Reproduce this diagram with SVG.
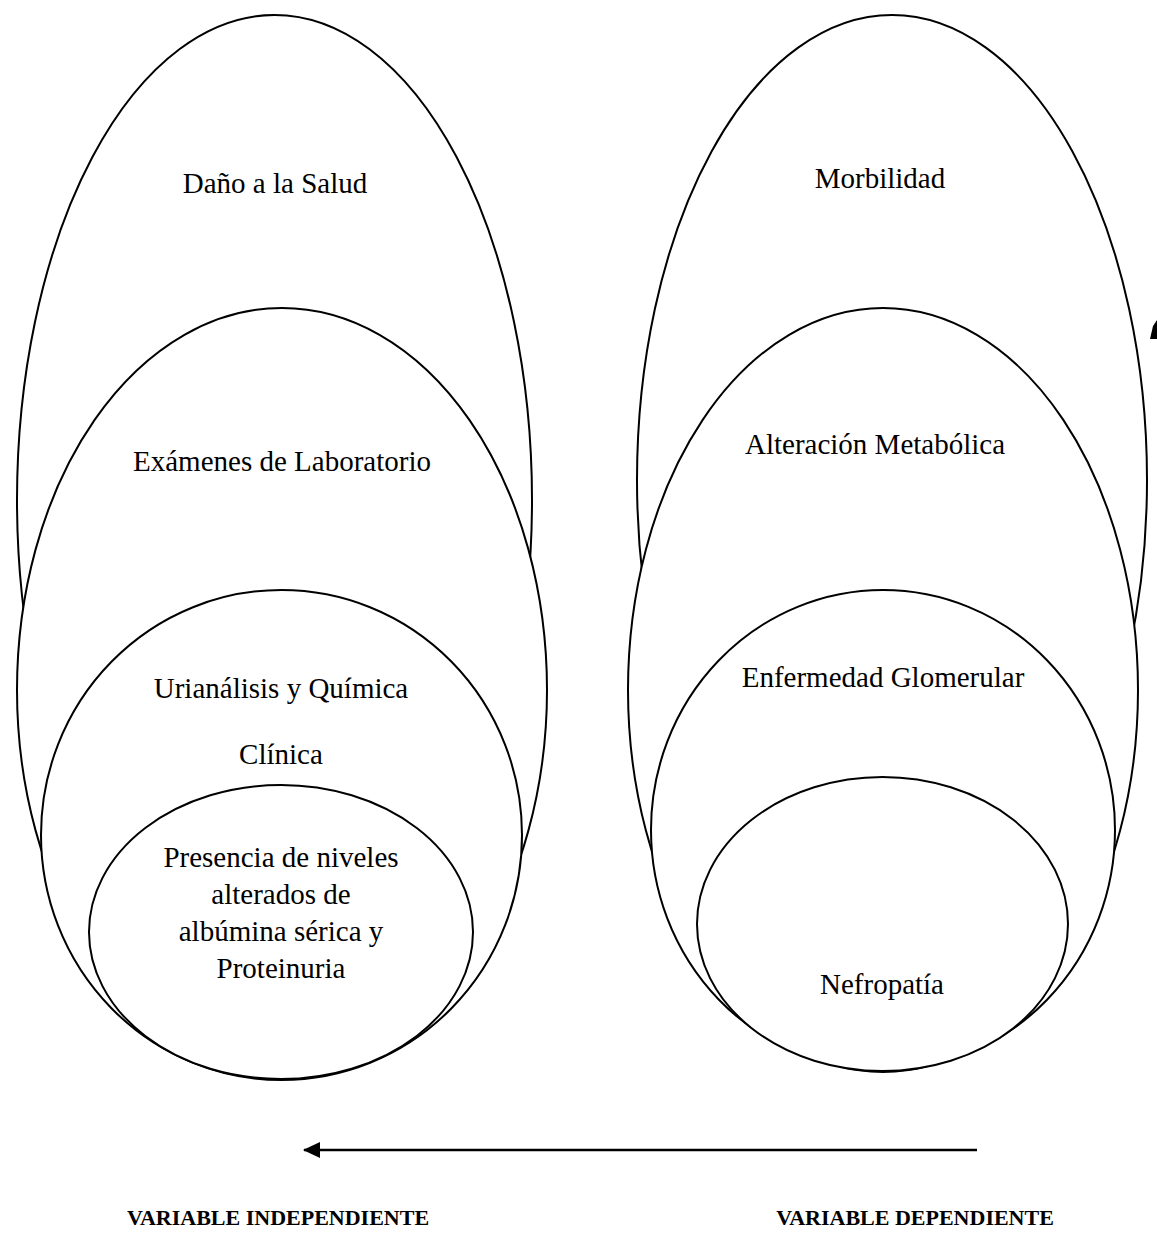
<svg xmlns="http://www.w3.org/2000/svg" width="1157" height="1237" viewBox="0 0 1157 1237">
<style>
.e{fill:#fff;stroke:#000;stroke-width:2}
.t{font-family:"Liberation Serif","Times New Roman",serif;font-size:29px;fill:#000;text-anchor:middle}
.b{font-weight:bold;font-size:22px}
</style>
<defs>
<marker id="ah" markerWidth="17" markerHeight="16" refX="16" refY="8" orient="auto" markerUnits="userSpaceOnUse">
<path d="M0,0 L17,8 L0,16 Z" fill="#000"/>
</marker>
</defs>
<rect width="1157" height="1237" fill="#fff"/>
<g id="dano">
<ellipse class="e" cx="274.5" cy="500" rx="257.5" ry="485"/>
<text class="t" x="275" y="193">Daño a la Salud</text>
</g>
<g id="examenes">
<ellipse class="e" cx="282" cy="690" rx="265" ry="382"/>
<text class="t" x="282" y="471">Exámenes de Laboratorio</text>
</g>
<g id="urianalisis">
<ellipse class="e" cx="281.5" cy="835" rx="240.5" ry="245"/>
<text class="t" x="281" y="698">Urianálisis y Química</text>
<text class="t" x="281" y="764">Clínica</text>
</g>
<g id="presencia">
<ellipse class="e" cx="281" cy="932" rx="192" ry="147"/>
<text class="t" x="281" y="867">Presencia de niveles</text>
<text class="t" x="281" y="904">alterados de</text>
<text class="t" x="281" y="941">albúmina sérica y</text>
<text class="t" x="281" y="978">Proteinuria</text>
</g>
<g id="morbilidad">
<ellipse class="e" cx="892" cy="480" rx="255" ry="465"/>
<text class="t" x="880" y="188">Morbilidad</text>
</g>
<g id="alteracion">
<ellipse class="e" cx="883" cy="690" rx="255" ry="382"/>
<text class="t" x="875" y="454">Alteración Metabólica</text>
</g>
<g id="enfermedad">
<ellipse class="e" cx="883" cy="830" rx="232" ry="240"/>
<text class="t" x="883" y="687">Enfermedad Glomerular</text>
</g>
<g id="nefropatia">
<ellipse class="e" cx="882.5" cy="924" rx="185.5" ry="147"/>
<text class="t" x="882" y="994">Nefropatía</text>
</g>
<polygon points="1153,326 1157,320 1157,339 1150,339" fill="#000"/>
<g id="connectors">
<line x1="977" y1="1150" x2="304" y2="1150" stroke="#000" stroke-width="2.5" marker-end="url(#ah)"/>
</g>
<g id="labels">
<text class="t b" x="278" y="1225">VARIABLE INDEPENDIENTE</text>
<text class="t b" x="915" y="1225">VARIABLE DEPENDIENTE</text>
</g>
</svg>
